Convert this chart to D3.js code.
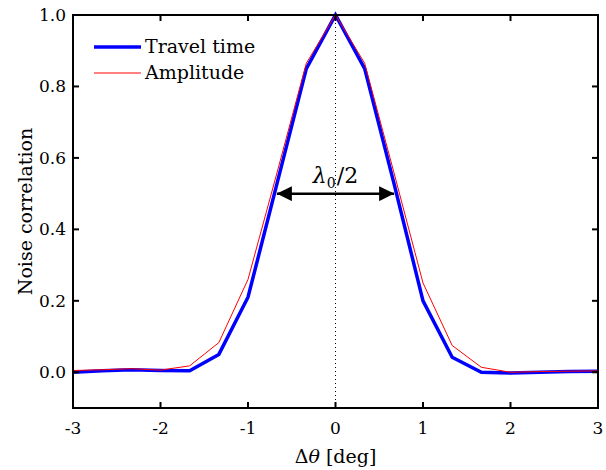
<!DOCTYPE html>
<html>
<head>
<meta charset="utf-8">
<script src="https://cdn.jsdelivr.net/npm/d3@7"></script>
<style>
  body { margin: 0; background: #fff; }
  svg { display: block; }
</style>
</head>
<body>
<svg id="chart" width="606" height="470"></svg>
<script>
// Angular offsets (deg), one sample every 1/3 deg
const offsets = [-3, -8/3, -7/3, -2, -5/3, -4/3, -1, -2/3, -1/3, 0, 1/3, 2/3, 1, 4/3, 5/3, 2, 7/3, 8/3, 3];
const travelTime = [0.0, 0.004, 0.007, 0.005, 0.004, 0.05, 0.21, 0.53, 0.85, 1.0, 0.85, 0.53, 0.2, 0.042, 0.0, -0.002, 0.0, 0.002, 0.003];
const amplitude  = [0.005, 0.007, 0.01, 0.006, 0.018, 0.083, 0.26, 0.56, 0.865, 1.0, 0.865, 0.56, 0.25, 0.075, 0.014, 0.0, 0.002, 0.003, 0.004];
const xTicks = [-3, -2, -1, 0, 1, 2, 3];
const yTicks = [0.0, 0.2, 0.4, 0.6, 0.8, 1.0];
const halfWidthLevel = 0.5;
const halfWidthSpan = [-0.67, 0.67];

const serif = 'DejaVu Serif';
const svg = d3.select('#chart');
const margin = { top: 15, right: 8, bottom: 62, left: 73 };
const width = 606 - margin.left - margin.right;
const height = 470 - margin.top - margin.bottom;

const x = d3.scaleLinear().domain([-3, 3]).range([0, width]);
const y = d3.scaleLinear().domain([-0.1, 1.0]).range([height, 0]);

const g = svg.append('g').attr('transform', `translate(${margin.left},${margin.top})`);

function label(sel) {
  return sel.style('font-family', serif).attr('fill', '#000');
}

// dotted zero line
g.append('line')
  .attr('x1', x(0)).attr('x2', x(0))
  .attr('y1', 0).attr('y2', height)
  .attr('stroke', '#000').attr('stroke-width', 1)
  .attr('stroke-dasharray', '1,3');

const line = d3.line().x((d, i) => x(offsets[i])).y(d => y(d));

g.append('path').datum(travelTime)
  .attr('d', line)
  .attr('fill', 'none').attr('stroke', '#0000ff').attr('stroke-width', 3.5);

g.append('path').datum(amplitude)
  .attr('d', line)
  .attr('fill', 'none').attr('stroke', '#ff0000').attr('stroke-width', 1);

// half-width arrow
svg.append('defs').append('marker')
  .attr('id', 'head')
  .attr('viewBox', '0 0 10 10')
  .attr('refX', 10).attr('refY', 5)
  .attr('markerWidth', 6).attr('markerHeight', 6)
  .attr('markerUnits', 'strokeWidth')
  .attr('orient', 'auto-start-reverse')
  .append('path').attr('d', 'M0,0 L10,5 L0,10 z').attr('fill', '#000');

g.append('line')
  .attr('x1', x(halfWidthSpan[0])).attr('x2', x(halfWidthSpan[1]))
  .attr('y1', y(halfWidthLevel)).attr('y2', y(halfWidthLevel))
  .attr('stroke', '#000').attr('stroke-width', 2.5)
  .attr('marker-start', 'url(#head)').attr('marker-end', 'url(#head)');

const lam = label(g.append('text'))
  .attr('x', x(0)).attr('y', y(halfWidthLevel) - 11)
  .attr('text-anchor', 'middle')
  .attr('font-size', 22);
lam.append('tspan').attr('font-style', 'italic').text('λ');
lam.append('tspan').attr('dy', 5).attr('font-size', 14).text('0');
lam.append('tspan').attr('dy', -5).attr('dx', 1).text('/2');

// frame
g.append('rect')
  .attr('width', width).attr('height', height)
  .attr('fill', 'none').attr('stroke', '#000').attr('stroke-width', 2);

const tickLen = 6;
xTicks.forEach(t => {
  g.append('line').attr('x1', x(t)).attr('x2', x(t)).attr('y1', height).attr('y2', height - tickLen)
    .attr('stroke', '#000').attr('stroke-width', 2);
  g.append('line').attr('x1', x(t)).attr('x2', x(t)).attr('y1', 0).attr('y2', tickLen)
    .attr('stroke', '#000').attr('stroke-width', 2);
  label(g.append('text')).attr('x', x(t)).attr('y', height + 26)
    .attr('text-anchor', 'middle').attr('font-size', 17)
    .text(t < 0 ? '-' + Math.abs(t) : String(t));
});

yTicks.forEach(t => {
  g.append('line').attr('x1', 0).attr('x2', tickLen).attr('y1', y(t)).attr('y2', y(t))
    .attr('stroke', '#000').attr('stroke-width', 2);
  g.append('line').attr('x1', width).attr('x2', width - tickLen).attr('y1', y(t)).attr('y2', y(t))
    .attr('stroke', '#000').attr('stroke-width', 2);
  label(g.append('text')).attr('x', -7).attr('y', y(t) + 6)
    .attr('text-anchor', 'end').attr('font-size', 17)
    .text(t.toFixed(1));
});

// axis titles
const xl = label(svg.append('text'))
  .attr('x', margin.left + x(0)).attr('y', 463)
  .attr('text-anchor', 'middle').attr('font-size', 19);
xl.append('tspan').text('Δ');
xl.append('tspan').attr('font-style', 'italic').text('θ');
xl.append('tspan').text(' [deg]');

label(svg.append('text'))
  .attr('transform', `translate(32,${margin.top + y(0.45)}) rotate(-90)`)
  .attr('text-anchor', 'middle').attr('font-size', 19)
  .text('Noise correlation');

// legend
const legend = [
  { label: 'Travel time', color: '#0000ff', w: 3.5 },
  { label: 'Amplitude', color: '#ff0000', w: 1 }
];
legend.forEach((d, i) => {
  const ly = 47 + i * 26;
  svg.append('line').attr('x1', 94).attr('x2', 141).attr('y1', ly).attr('y2', ly)
    .attr('stroke', d.color).attr('stroke-width', d.w);
  label(svg.append('text')).attr('x', 145).attr('y', ly + 6)
    .attr('font-size', 19).text(d.label);
});
</script>
</body>
</html>
